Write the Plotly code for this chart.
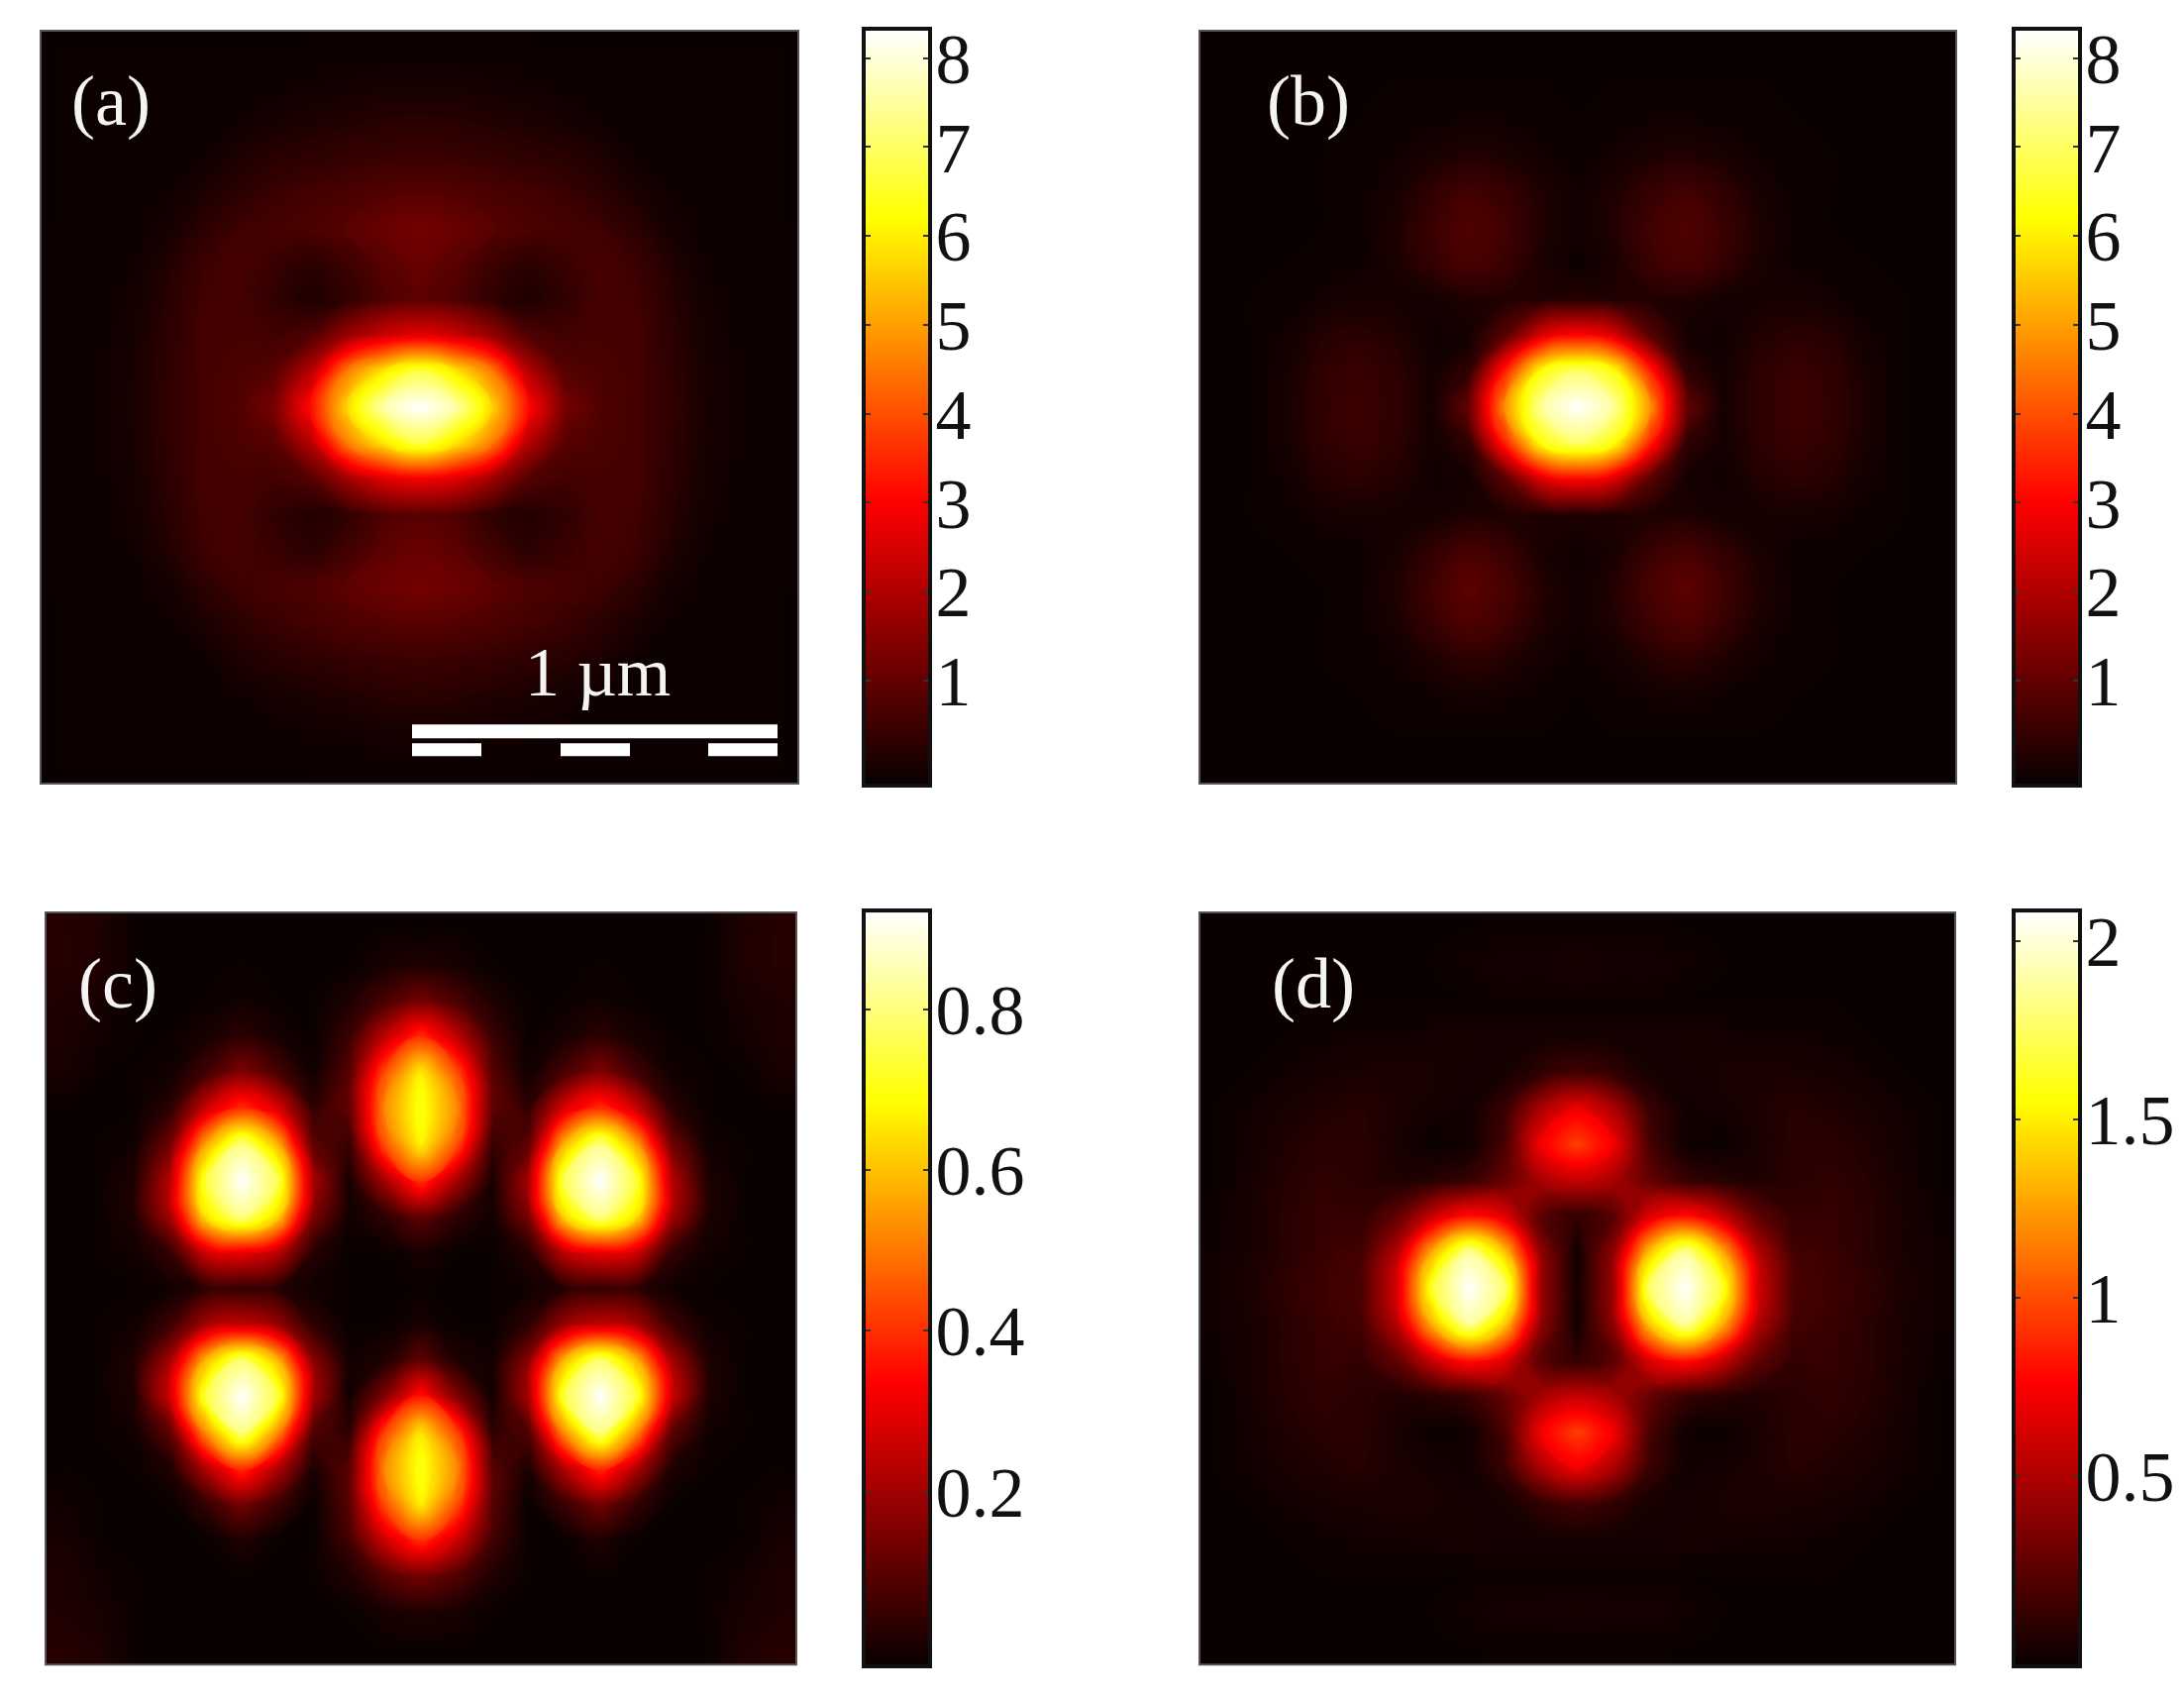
"""Four intensity maps (a)-(d) with hot colour bars, scale bar in panel (a)."""

import plotly.graph_objects as go

WIDTH = 2197
HEIGHT = 1692
MARGIN_X = 8
MARGIN_Y = 16

HOT = [[0, "#0a0000"], [0.375, "#ff0000"], [0.75, "#ffff00"], [1, "#ffffff"]]

PANEL_A = [
    [.01, .01, .01, .01, .01, .01, .01, .02, .02, .03, .03, .03, .02, .02, .01, .01, .01, .01, .01, .01, .01],
    [.01, .01, .01, .01, .02, .02, .04, .07, .10, .14, .15, .14, .10, .07, .04, .02, .02, .01, .01, .01, .01],
    [.01, .01, .01, .02, .03, .06, .15, .24, .30, .36, .38, .36, .30, .24, .15, .06, .03, .02, .01, .01, .01],
    [.01, .01, .02, .02, .05, .25, .38, .45, .52, .58, .60, .58, .52, .45, .38, .25, .05, .02, .02, .01, .01],
    [.01, .01, .02, .05, .22, .42, .60, .70, .80, .90, .96, .90, .80, .70, .60, .42, .22, .05, .02, .01, .01],
    [.02, .02, .04, .12, .42, .65, .76, .85, 1.0, 1.2, 1.35, 1.2, 1.0, .85, .76, .65, .42, .12, .04, .02, .02],
    [.02, .02, .05, .28, .62, .76, .60, .42, .65, 1.0, 1.2, 1.0, .65, .42, .60, .76, .62, .28, .05, .02, .02],
    [.02, .03, .10, .36, .68, .75, .50, .25, .50, .90, 1.05, .90, .50, .25, .50, .75, .68, .36, .10, .03, .02],
    [.02, .03, .14, .42, .72, .75, .70, .90, 1.8, 2.5, 2.8, 2.5, 1.8, .90, .70, .75, .72, .42, .14, .03, .02],
    [.02, .04, .16, .45, .72, .85, 1.0, 2.2, 4.7, 6.0, 6.9, 6.0, 4.7, 2.2, 1.0, .85, .72, .45, .16, .04, .02],
    [.02, .04, .17, .47, .72, .90, 1.4, 3.3, 5.8, 7.7, 8.4, 7.7, 5.8, 3.3, 1.4, .90, .72, .47, .17, .04, .02],
    [.02, .04, .16, .45, .72, .85, 1.0, 2.2, 4.7, 6.0, 6.9, 6.0, 4.7, 2.2, 1.0, .85, .72, .45, .16, .04, .02],
    [.02, .03, .14, .42, .72, .75, .70, .95, 1.9, 2.7, 3.0, 2.7, 1.9, .95, .70, .75, .72, .42, .14, .03, .02],
    [.02, .03, .10, .36, .68, .75, .50, .30, .50, .90, 1.0, .90, .50, .30, .50, .75, .68, .36, .10, .03, .02],
    [.02, .02, .05, .28, .62, .75, .60, .45, .70, 1.05, 1.2, 1.05, .70, .45, .60, .75, .62, .28, .05, .02, .02],
    [.02, .02, .04, .12, .42, .65, .76, .85, 1.05, 1.25, 1.35, 1.25, 1.05, .85, .76, .65, .42, .12, .04, .02, .02],
    [.01, .01, .02, .05, .22, .42, .60, .72, .85, .95, 1.0, .95, .85, .72, .60, .42, .22, .05, .02, .01, .01],
    [.01, .01, .02, .02, .05, .25, .38, .46, .54, .60, .64, .60, .54, .46, .38, .25, .05, .02, .02, .01, .01],
    [.01, .01, .01, .02, .03, .06, .15, .24, .31, .38, .42, .38, .31, .24, .15, .06, .03, .02, .01, .01, .01],
    [.01, .01, .01, .01, .02, .02, .04, .07, .10, .15, .17, .15, .10, .07, .04, .02, .02, .01, .01, .01, .01],
    [.01, .01, .01, .01, .01, .01, .01, .02, .02, .03, .03, .03, .02, .02, .01, .01, .01, .01, .01, .01, .01],
]

PANEL_B = [
    [0, 0, 0, 0, 0, 0, 0, 0, 0, 0, 0, 0, 0, 0, 0, 0, 0, 0, 0, 0, 0],
    [0, 0, 0, 0, 0, 0, 0, 0, 0, 0, 0, 0, 0, 0, 0, 0, 0, 0, 0, 0, 0],
    [0, 0, 0, 0, 0, .01, .04, .07, .06, .02, 0, .02, .06, .07, .04, .01, 0, 0, 0, 0, 0],
    [0, 0, 0, 0, .01, .06, .20, .30, .24, .10, .03, .10, .24, .30, .20, .06, .01, 0, 0, 0, 0],
    [0, 0, 0, 0, .03, .18, .48, .70, .54, .26, .06, .26, .54, .70, .48, .18, .03, 0, 0, 0, 0],
    [0, 0, 0, 0, .04, .26, .62, .90, .68, .30, .08, .30, .68, .90, .62, .26, .04, 0, 0, 0, 0],
    [0, 0, 0, .01, .05, .22, .54, .80, .60, .22, .03, .22, .60, .80, .54, .22, .05, .01, 0, 0, 0],
    [0, 0, .02, .12, .18, .14, .14, .28, .28, .30, .35, .30, .28, .28, .14, .14, .18, .12, .02, 0, 0],
    [0, 0, .10, .34, .40, .30, .06, .15, 1.0, 2.7, 3.2, 2.7, 1.0, .15, .06, .30, .40, .34, .10, 0, 0],
    [0, 0, .18, .48, .60, .42, .12, .50, 3.6, 6.4, 7.2, 6.4, 3.6, .50, .12, .42, .60, .48, .18, 0, 0],
    [0, 0, .22, .52, .64, .45, .15, 1.2, 5.0, 7.6, 8.4, 7.6, 5.0, 1.2, .15, .45, .64, .52, .22, 0, 0],
    [0, 0, .18, .48, .60, .42, .12, .50, 3.6, 6.4, 7.2, 6.4, 3.6, .50, .12, .42, .60, .48, .18, 0, 0],
    [0, 0, .10, .34, .40, .30, .06, .15, 1.0, 2.7, 3.2, 2.7, 1.0, .15, .06, .30, .40, .34, .10, 0, 0],
    [0, 0, .02, .12, .18, .14, .14, .24, .24, .25, .30, .25, .24, .24, .14, .14, .18, .12, .02, 0, 0],
    [0, 0, 0, .01, .05, .20, .50, .78, .58, .20, .04, .20, .58, .78, .50, .20, .05, .01, 0, 0, 0],
    [0, 0, 0, 0, .04, .28, .68, 1.05, .78, .32, .08, .32, .78, 1.05, .68, .28, .04, 0, 0, 0, 0],
    [0, 0, 0, 0, .03, .22, .58, .88, .65, .28, .07, .28, .65, .88, .58, .22, .03, 0, 0, 0, 0],
    [0, 0, 0, 0, .01, .08, .28, .45, .33, .12, .03, .12, .33, .45, .28, .08, .01, 0, 0, 0, 0],
    [0, 0, 0, 0, 0, .01, .06, .12, .09, .03, 0, .03, .09, .12, .06, .01, 0, 0, 0, 0, 0],
    [0, 0, 0, 0, 0, 0, 0, 0, 0, 0, 0, 0, 0, 0, 0, 0, 0, 0, 0, 0, 0],
    [0, 0, 0, 0, 0, 0, 0, 0, 0, 0, 0, 0, 0, 0, 0, 0, 0, 0, 0, 0, 0],
]

PANEL_C = [
    [.04, .03, 0, 0, 0, 0, 0, 0, 0, 0, 0, 0, 0, 0, 0, 0, 0, 0, 0, .03, .04],
    [.04, .03, 0, 0, 0, 0, 0, 0, 0, .02, .03, .02, 0, 0, 0, 0, 0, 0, 0, .03, .04],
    [.03, .02, 0, 0, 0, .01, 0, 0, .03, .09, .15, .09, .03, 0, 0, .01, 0, 0, 0, .02, .03],
    [.03, .01, 0, 0, .02, .05, .02, 0, .07, .26, .42, .26, .07, 0, .02, .05, .02, 0, 0, .01, .03],
    [.02, 0, 0, .01, .08, .17, .09, .01, .11, .46, .68, .46, .11, .01, .09, .17, .08, .01, 0, 0, .02],
    [0, 0, 0, .05, .28, .42, .30, .06, .12, .54, .72, .54, .12, .06, .30, .42, .28, .05, 0, 0, 0],
    [0, 0, .01, .15, .58, .82, .60, .12, .06, .46, .68, .46, .06, .12, .60, .82, .58, .15, .01, 0, 0],
    [0, 0, .03, .25, .76, .93, .78, .22, .02, .22, .42, .22, .02, .22, .78, .93, .76, .25, .03, 0, 0],
    [0, 0, .03, .22, .66, .82, .64, .16, .01, .05, .12, .05, .01, .16, .64, .82, .66, .22, .03, 0, 0],
    [0, 0, .01, .06, .28, .32, .25, .04, 0, 0, .02, 0, 0, .04, .25, .32, .28, .06, .01, 0, 0],
    [0, 0, 0, .01, .05, .06, .04, .01, 0, 0, 0, 0, 0, .01, .04, .06, .05, .01, 0, 0, 0],
    [0, 0, .01, .07, .22, .26, .20, .05, 0, 0, .02, 0, 0, .05, .20, .26, .22, .07, .01, 0, 0],
    [0, 0, .03, .22, .60, .80, .60, .18, .01, .03, .12, .03, .01, .18, .60, .80, .60, .22, .03, 0, 0],
    [0, 0, .03, .28, .76, .93, .76, .22, .01, .17, .38, .17, .01, .22, .76, .93, .76, .28, .03, 0, 0],
    [0, 0, .01, .12, .55, .82, .55, .10, .05, .44, .66, .44, .05, .10, .55, .82, .55, .12, .01, 0, 0],
    [0, 0, 0, .03, .24, .42, .24, .03, .11, .54, .72, .54, .11, .03, .24, .42, .24, .03, 0, 0, 0],
    [.01, 0, 0, 0, .06, .15, .07, 0, .11, .46, .68, .46, .11, 0, .07, .15, .06, 0, 0, 0, .01],
    [.02, 0, 0, 0, 0, .03, 0, 0, .08, .28, .42, .28, .08, 0, 0, .03, 0, 0, 0, 0, .02],
    [.03, .01, 0, 0, 0, 0, 0, 0, .03, .10, .15, .10, .03, 0, 0, 0, 0, 0, 0, .01, .03],
    [.03, .02, 0, 0, 0, 0, 0, 0, 0, .02, .03, .02, 0, 0, 0, 0, 0, 0, 0, .02, .03],
    [.04, .03, 0, 0, 0, 0, 0, 0, 0, 0, 0, 0, 0, 0, 0, 0, 0, 0, 0, .03, .04],
]

PANEL_D = [
    [0, 0, 0, 0, 0, 0, 0, 0, .01, .01, .01, .01, .01, 0, 0, 0, 0, 0, 0, 0, 0],
    [0, 0, 0, 0, 0, 0, 0, .02, .03, .03, .04, .03, .03, .02, 0, 0, 0, 0, 0, 0, 0],
    [0, 0, 0, 0, 0, 0, 0, 0, .01, .01, .01, .01, .01, 0, 0, 0, 0, 0, 0, 0, 0],
    [0, 0, 0, .01, .02, .02, .03, .04, .03, .03, .03, .03, .03, .04, .03, .02, .02, .01, 0, 0, 0],
    [0, 0, .02, .04, .05, .06, .05, .03, .04, .12, .18, .12, .04, .03, .05, .06, .05, .04, .02, 0, 0],
    [0, .02, .05, .07, .09, .06, .03, .02, .15, .52, .74, .52, .15, .02, .03, .06, .09, .07, .05, .02, 0],
    [0, .03, .07, .10, .10, .05, 0, .02, .20, .75, .98, .75, .20, .02, 0, .05, .10, .10, .07, .03, 0],
    [0, .04, .09, .12, .10, .07, .10, .15, .30, .50, .60, .50, .30, .15, .10, .07, .10, .12, .09, .04, 0],
    [.01, .05, .10, .14, .13, .28, .62, .85, .68, .25, .12, .25, .68, .85, .62, .28, .13, .14, .10, .05, .01],
    [.02, .05, .10, .15, .18, .55, 1.35, 1.9, 1.4, .42, .03, .42, 1.4, 1.9, 1.35, .55, .18, .15, .10, .05, .02],
    [.02, .06, .12, .16, .20, .65, 1.7, 2.1, 1.8, .45, .03, .45, 1.8, 2.1, 1.7, .65, .20, .16, .12, .06, .02],
    [.02, .05, .10, .15, .18, .55, 1.35, 1.9, 1.4, .42, .03, .42, 1.4, 1.9, 1.35, .55, .18, .15, .10, .05, .02],
    [.01, .05, .10, .14, .13, .28, .62, .85, .68, .25, .12, .25, .68, .85, .62, .28, .13, .14, .10, .05, .01],
    [0, .04, .09, .12, .10, .07, .10, .15, .30, .50, .60, .50, .30, .15, .10, .07, .10, .12, .09, .04, 0],
    [0, .03, .07, .10, .10, .05, 0, .02, .20, .75, .98, .75, .20, .02, 0, .05, .10, .10, .07, .03, 0],
    [0, .02, .05, .07, .09, .06, .03, .02, .15, .52, .74, .52, .15, .02, .03, .06, .09, .07, .05, .02, 0],
    [0, 0, .02, .04, .05, .06, .05, .03, .04, .12, .18, .12, .04, .03, .05, .06, .05, .04, .02, 0, 0],
    [0, 0, 0, .01, .02, .02, .03, .04, .03, .03, .03, .03, .03, .04, .03, .02, .02, .01, 0, 0, 0],
    [0, 0, 0, 0, 0, 0, 0, 0, .01, .01, .01, .01, .01, 0, 0, 0, 0, 0, 0, 0, 0],
    [0, 0, 0, 0, 0, 0, 0, .02, .03, .03, .04, .03, .03, .02, 0, 0, 0, 0, 0, 0, 0],
    [0, 0, 0, 0, 0, 0, 0, 0, .01, .01, .01, .01, .01, 0, 0, 0, 0, 0, 0, 0, 0],
]

PANEL_LABELS = ["(a)", "(b)", "(c)", "(d)"]
Z_MAX = [8.4, 8.4, 0.93, 2.1]
BAR_RANGE = [[-0.16, 8.31], [-0.16, 8.31], [-0.015, 0.92], [-0.03, 2.08]]
TICKS_AB = [1, 2, 3, 4, 5, 6, 7, 8]
TICKS_C = [0.2, 0.4, 0.6, 0.8]
TICKS_D = [0.5, 1, 1.5, 2]
TICKS = [TICKS_AB, TICKS_AB, TICKS_C, TICKS_D]

# pixel boxes: left, right, top, bottom of the map; left, right of the colour bar
BOXES = [
    (41, 806, 28, 793, 874, 937),
    (1211, 1975, 28, 793, 2035, 2098),
    (46, 804, 924, 1688, 874, 937),
    (1211, 1974, 924, 1688, 2035, 2098),
]
LABEL_POS = [(70, 100), (1277, 100), (77, 996), (1282, 996)]

SERIF = "Liberation Serif"


def px(x):
    return (x - MARGIN_X) / WIDTH


def py(y):
    return 1 - (y - MARGIN_Y) / HEIGHT


fig = go.Figure()
annotations = []
axes = {}
shapes = []

panels = [PANEL_A, PANEL_B, PANEL_C, PANEL_D]
for n, (z, box) in enumerate(zip(panels, BOXES)):
    left, right, top, bottom, bar_left, bar_right = box
    map_id = 2 * n + 1
    bar_id = 2 * n + 2
    map_suffix = "" if map_id == 1 else str(map_id)

    # heatmap underneath fills the half cell round the edge that the contour leaves out
    fig.add_trace(
        go.Heatmap(
            z=z, xaxis=f"x{map_suffix}", yaxis=f"y{map_suffix}",
            zmin=0, zmax=Z_MAX[n], zsmooth="best", colorscale=HOT,
            showscale=False, hoverinfo="skip",
        )
    )
    fig.add_trace(
        go.Contour(
            z=z, xaxis=f"x{map_suffix}", yaxis=f"y{map_suffix}",
            zmin=0, zmax=Z_MAX[n], colorscale=HOT, showscale=False,
            hoverinfo="skip",
            contours=dict(coloring="fill", showlines=False, start=0,
                          end=Z_MAX[n], size=Z_MAX[n] / 170),
            line=dict(width=0, smoothing=1.3),
        )
    )
    # colour bar drawn as its own small map so the ticks sit on a real axis
    fig.add_trace(
        go.Heatmap(
            x=[0, 1], y=BAR_RANGE[n],
            z=[[0, 0], [Z_MAX[n], Z_MAX[n]]],
            xaxis=f"x{bar_id}", yaxis=f"y{bar_id}",
            zmin=0, zmax=Z_MAX[n], zsmooth="best", colorscale=HOT,
            showscale=False, hoverinfo="skip",
        )
    )

    axis = dict(showticklabels=False, ticks="", showgrid=False, zeroline=False, showline=False)
    axes[f"xaxis{map_suffix}"] = dict(axis, domain=[px(left), px(right)], range=[-0.48, 20.48])
    axes[f"yaxis{map_suffix}"] = dict(axis, domain=[py(bottom), py(top)], range=[20.48, -0.48])
    axes[f"xaxis{bar_id}"] = dict(
        axis, domain=[px(bar_left), px(bar_right)], range=[0, 1],
        showline=True, mirror=True, linecolor="#111111", linewidth=4, anchor=f"y{bar_id}",
    )
    axes[f"yaxis{bar_id}"] = dict(
        domain=[py(bottom), py(top)], range=BAR_RANGE[n], anchor=f"x{bar_id}",
        side="right", showgrid=False, zeroline=False,
        showline=True, mirror="ticks", linecolor="#111111", linewidth=4,
        tickmode="array", tickvals=TICKS[n], ticktext=[str(t) for t in TICKS[n]],
        ticks="inside", ticklen=5, tickwidth=2, tickcolor="#333333",
        ticklabelstandoff=-11,
        tickfont=dict(family=SERIF, size=72, color="#111111"),
    )
    shapes.append(
        dict(type="rect", xref="paper", yref="paper",
             x0=px(left), x1=px(right), y0=py(bottom), y1=py(top),
             fillcolor="rgba(0,0,0,0)", line=dict(color="#555555", width=2))
    )
    annotations.append(
        dict(
            text=PANEL_LABELS[n],
            xref="paper", yref="paper",
            x=px(LABEL_POS[n][0]), y=py(LABEL_POS[n][1]),
            xanchor="left", yanchor="middle", showarrow=False,
            font=dict(family=SERIF, size=72, color="#f4f4f4"),
        )
    )

annotations.append(
    dict(
        text="1 \u00b5m",
        xref="paper", yref="paper",
        x=px(603), y=py(680),
        xanchor="center", yanchor="middle", showarrow=False,
        font=dict(family=SERIF, size=70, color="#f4f4f4"),
    )
)

# scale bar under the label in panel (a)
for x0, x1, y0, y1 in [(416, 785, 733, 747), (416, 486, 752, 765), (566, 636, 752, 765), (715, 785, 752, 765)]:
    shapes.append(
        dict(type="rect", xref="paper", yref="paper",
             x0=px(x0), x1=px(x1), y0=py(y0), y1=py(y1),
             fillcolor="white", line=dict(width=0))
    )

fig.update_layout(
    width=WIDTH,
    height=HEIGHT,
    margin=dict(l=0, r=0, t=0, b=0),
    paper_bgcolor="white",
    plot_bgcolor="#0a0000",
    showlegend=False,
    annotations=annotations,
    shapes=shapes,
    **axes,
)

fig.write_html("out.html")
